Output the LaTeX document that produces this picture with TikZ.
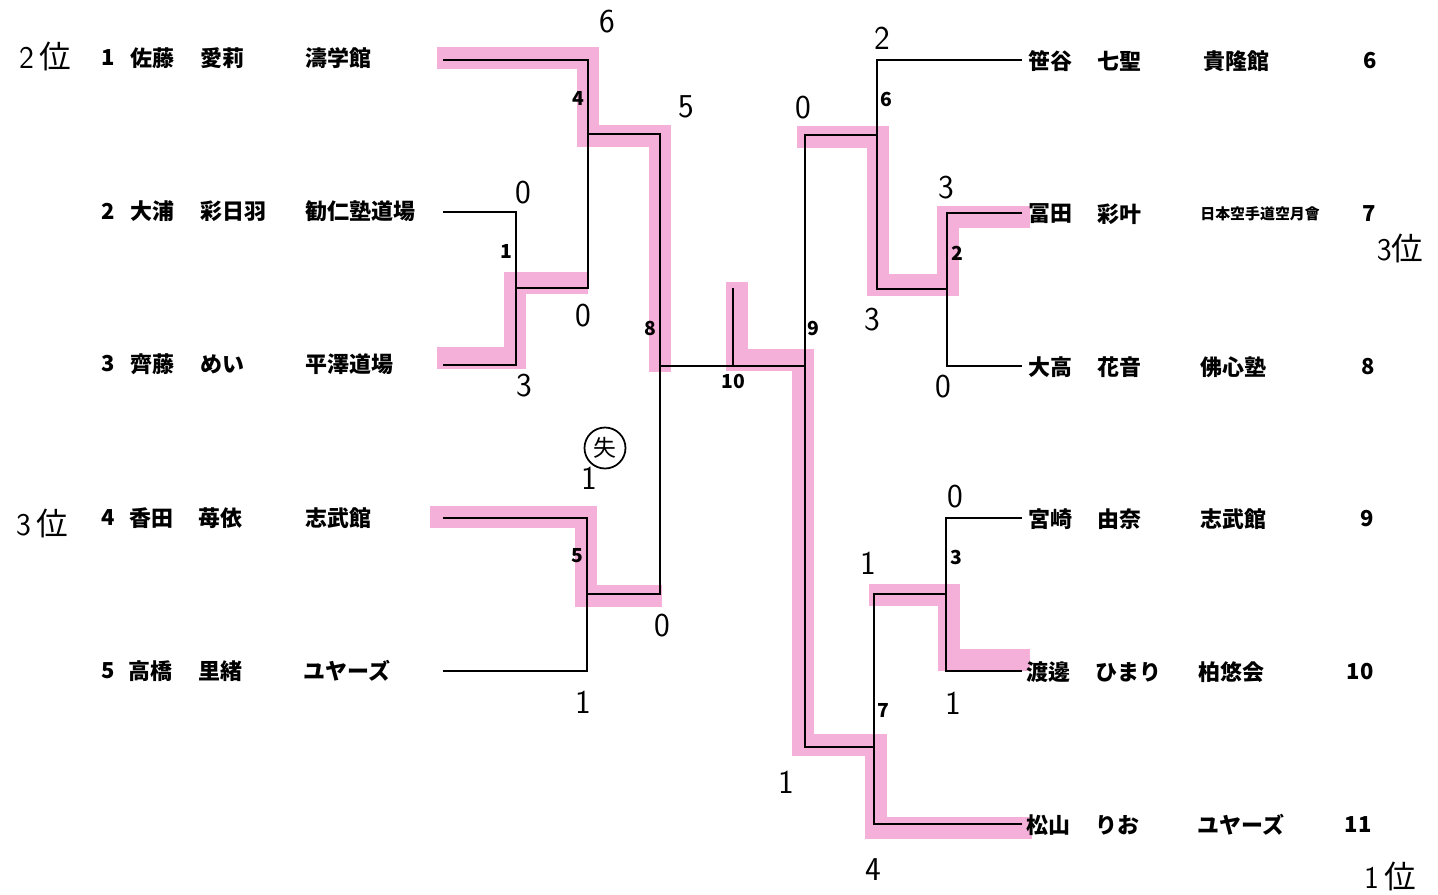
\documentclass[tikz,border=0pt]{standalone}
\usepackage{fontspec}
\newfontfamily\jp{Noto Sans CJK JP}
\definecolor{hlpink}{RGB}{245,176,218}
\begin{document}
\begin{tikzpicture}[x=0.02cm,y=-0.02cm,
  br/.style={line width=1.6pt,black},
  hl/.style={line width=12pt,hlpink},
  nm/.style={font=\jp\bfseries\fontsize{12.5}{14}\selectfont,anchor=west,inner sep=0pt},
  rnum/.style={font=\jp\bfseries\fontsize{12.5}{14}\selectfont,inner sep=0pt},
  mlab/.style={font=\jp\bfseries\fontsize{11}{13}\selectfont,inner sep=0pt},
  hw/.style={font=\sffamily\fontsize{19}{21}\selectfont,inner sep=0pt},
  hwj/.style={font=\sffamily\fontsize{18}{20}\selectfont,inner sep=0pt}]
\fill[white] (0,0) rectangle (1438,894);
\useasboundingbox (0,0) rectangle (1438,894);

% ---------- highlights ----------
\draw[hl] (437,58) -- (588,58) -- (588,136) -- (660,136) -- (660,372);
\draw[hl] (437,358) -- (515,358) -- (515,283) -- (588,283);
\draw[hl] (430,517) -- (586,517) -- (586,596) -- (662,596);
\draw[hl] (737,282) -- (737,360) -- (803,360) -- (803,745) -- (876,745) -- (876,828) -- (1032,828);
\draw[hl] (797,137) -- (878,137) -- (878,285) -- (948,285) -- (948,217) -- (1030,217);
\draw[hl] (869,595) -- (949,595) -- (949,660) -- (1030,660);

% ---------- left players ----------
\node[rnum] (ln1) at (108,58) {1};
\node[nm] (ls1) at (130,58) {佐藤};
\node[nm] (lg1) at (200,58) {愛莉};
\node[nm] (ld1) at (305,58) {濤学館};
\node[rnum] (ln2) at (108,211) {2};
\node[nm] (ls2) at (130,211) {大浦};
\node[nm] (lg2) at (200,211) {彩日羽};
\node[nm] (ld2) at (305,211) {勧仁塾道場};
\node[rnum] (ln3) at (108,364) {3};
\node[nm] (ls3) at (130,364) {齊藤};
\node[nm] (lg3) at (200,364) {めい};
\node[nm] (ld3) at (305,364) {平澤道場};
\node[rnum] (ln4) at (108,518) {4};
\node[nm] (ls4) at (129,518) {香田};
\node[nm] (lg4) at (198,518) {苺依};
\node[nm] (ld4) at (305,518) {志武館};
\node[rnum] (ln5) at (108,671) {5};
\node[nm] (ls5) at (128,671) {高橋};
\node[nm] (lg5) at (198,671) {里緒};
\node[nm] (ld5) at (303,671) {ユヤーズ};

% ---------- right players ----------
\node[nm] (rs6) at (1028,61) {笹谷};
\node[nm] (rg6) at (1097,61) {七聖};
\node[nm] (rd6) at (1203,61) {貴隆館};
\node[rnum] (rn6) at (1370,61) {6};
\node[nm] (rs7) at (1028,214) {冨田};
\node[nm] (rg7) at (1097,214) {彩叶};
\node[nm,font=\jp\bfseries\fontsize{8.5}{10}\selectfont] (rd7) at (1200,214) {日本空手道空月會};
\node[rnum] (rn7) at (1369,214) {7};
\node[nm] (rs8) at (1028,367) {大高};
\node[nm] (rg8) at (1097,367) {花音};
\node[nm] (rd8) at (1200,367) {佛心塾};
\node[rnum] (rn8) at (1368,367) {8};
\node[nm] (rs9) at (1028,519) {宮崎};
\node[nm] (rg9) at (1097,519) {由奈};
\node[nm] (rd9) at (1200,519) {志武館};
\node[rnum] (rn9) at (1367,519) {9};
\node[nm] (rs10) at (1026,672) {渡邊};
\node[nm] (rg10) at (1095,672) {ひまり};
\node[nm] (rd10) at (1198,672) {柏悠会};
\node[rnum] (rn10) at (1360,672) {10};
\node[nm] (rs11) at (1026,825) {松山};
\node[nm] (rg11) at (1095,825) {りお};
\node[nm] (rd11) at (1197,825) {ユヤーズ};
\node[rnum] (rn11) at (1358,825) {11};

% ---------- bracket coordinates ----------
\coordinate (a1) at (443,60);
\coordinate (a2) at (443,212);
\coordinate (a3) at (443,365);
\coordinate (a4) at (443,518);
\coordinate (a5) at (443,671);
\coordinate (m1) at (516,288);
\coordinate (m4) at (588,134);
\coordinate (m5) at (587,594);
\coordinate (m8) at (660,366);
\coordinate (fin) at (733,366);
\coordinate (fint) at (733,288);
\coordinate (m9) at (805,366);
\coordinate (b6) at (1022,60);
\coordinate (b7) at (1022,213);
\coordinate (b8) at (1022,366);
\coordinate (b9) at (1022,518);
\coordinate (b10) at (1022,671);
\coordinate (b11) at (1022,824);
\coordinate (m2) at (947,289);
\coordinate (m6) at (877,135);
\coordinate (m3) at (946,594);
\coordinate (m7) at (874,747);

% ---------- bracket lines ----------
\draw[br] (a2) -| (m1) |- (a3);
\draw[br] (a1) -| (m4) |- (m1);
\draw[br] (a4) -| (m5) |- (a5);
\draw[br] (m4) -| (m8) |- (m5);
\draw[br] (m8) -- (fin) -- (m9);
\draw[br] (fin) -- (fint);
\draw[br] (b7) -| (m2) |- (b8);
\draw[br] (b6) -| (m6) |- (m2);
\draw[br] (b9) -| (m3) |- (b10);
\draw[br] (m3) -| (m7) |- (b11);
\draw[br] (m6) -| (m9) |- (m7);

% ---------- match numbers ----------
\node[mlab,anchor=east] (k4) at (585,98) {4};
\node[mlab,anchor=east] (k1) at (513,251) {1};
\node[mlab,anchor=east] (k5) at (584,556) {5};
\node[mlab,anchor=east] (k8) at (657,328) {8};
\node[mlab] (k10) at (733,381) {10};
\node[mlab,anchor=west] (k9) at (807,328) {9};
\node[mlab,anchor=west] (k6) at (880,99) {6};
\node[mlab,anchor=west] (k2) at (951,253) {2};
\node[mlab,anchor=west] (k3) at (950,557) {3};
\node[mlab,anchor=west] (k7) at (877,710) {7};

% ---------- handwritten notes ----------
\node[hwj] (rank2) at (45,56) {2\,{\jp\fontsize{18}{20}\selectfont 位}};
\node[hwj] (rank3l) at (42,523) {3\,{\jp\fontsize{18}{20}\selectfont 位}};
\node[hwj] (rank3r) at (1400,248) {3{\jp\fontsize{18}{20}\selectfont 位}};
\node[hwj] (rank1) at (1390,876) {1\,{\jp\fontsize{18}{20}\selectfont 位}};
\node[hw] (s1) at (607,22) {6};
\node[hw] (s2) at (686,107) {5};
\node[hw] (s3) at (523,193) {0};
\node[hw] (s4) at (583,316) {0};
\node[hw] (s5) at (524,386) {3};
\node[hw] (s6) at (589,478) {1};
\node[hw] (s7) at (662,626) {0};
\node[hw] (s8) at (583,702) {1};
\node[hw] (s9) at (882,38) {2};
\node[hw] (s10) at (803,108) {0};
\node[hw] (s11) at (946,188) {3};
\node[hw] (s12) at (872,320) {3};
\node[hw] (s13) at (943,387) {0};
\node[hw] (s14) at (955,497) {0};
\node[hw] (s15) at (868,563) {1};
\node[hw] (s16) at (953,703) {1};
\node[hw] (s17) at (786,782) {1};
\node[hw] (s18) at (873,870) {4};
\node[draw,circle,line width=1pt,minimum size=0.82cm,inner sep=0pt,font=\jp\fontsize{13}{15}\selectfont] (lose) at (605,448) {失};
\end{tikzpicture}
\end{document}
